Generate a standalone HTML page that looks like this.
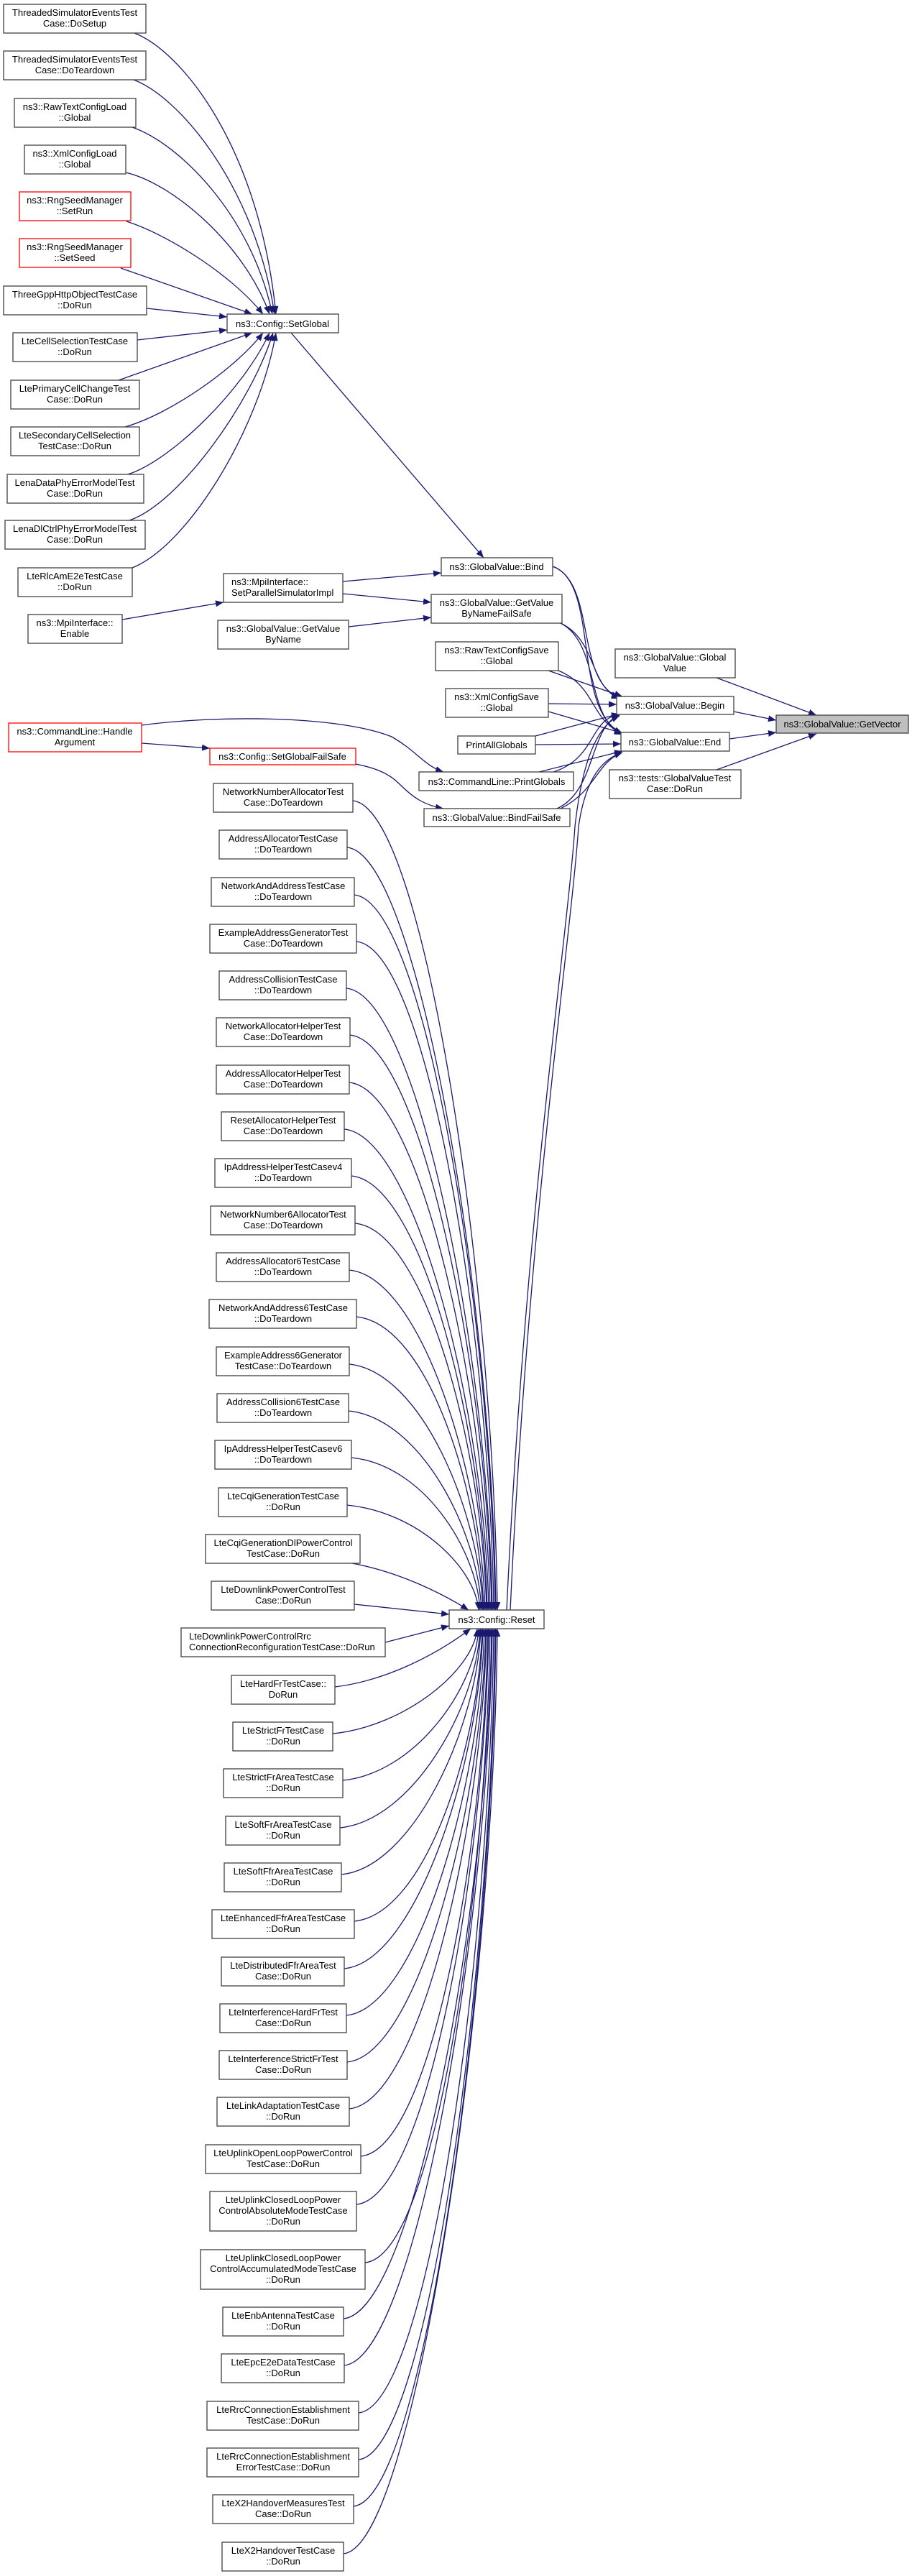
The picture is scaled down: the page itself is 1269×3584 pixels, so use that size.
<!DOCTYPE html>
<html><head><meta charset="utf-8"><style>
html,body{margin:0;padding:0;background:#fff;}
svg{display:block;}
text{font-family:"Liberation Sans",Arial,sans-serif;font-size:13px;fill:#000;}
.n{fill:#fff;stroke:#404040;stroke-width:1.3;}
.r{fill:#fff;stroke:#ff0000;stroke-width:1.3;}
.g{fill:#bfbfbf;stroke:#404040;stroke-width:1.3;}
.e{fill:none;stroke:#191970;stroke-width:1.3;marker-end:url(#a);}
</style></head><body>
<svg width="1269" height="3584" viewBox="0 0 1269 3584" xmlns="http://www.w3.org/2000/svg">
<defs><marker id="a" markerUnits="userSpaceOnUse" markerWidth="12" markerHeight="9" refX="11" refY="4.5" orient="auto"><path d="M0,0 L11,4.5 L0,9 z" fill="#191970"/></marker></defs>

<!-- edges to SetGlobal -->
<path class="e" d="M187,46 C250,70 360,200 384,437"/>
<path class="e" d="M186,111 C250,135 355,260 382,437"/>
<path class="e" d="M184,177 C250,200 350,300 379,437"/>
<path class="e" d="M175,240 C240,255 340,340 375,437"/>
<path class="e" d="M176,308 C230,325 320,380 366,437"/>
<path class="e" d="M168,373 L351,437"/>
<path class="e" d="M204,429 L316,441"/>
<path class="e" d="M191,473 L316,459"/>
<path class="e" d="M165,529 L351,463"/>
<path class="e" d="M174,594 C240,575 330,510 366,463"/>
<path class="e" d="M178,660 C240,640 340,540 375,463"/>
<path class="e" d="M180,724 C250,700 350,560 380,463"/>
<path class="e" d="M184,790 C260,760 360,600 384,463"/>
<path class="e" d="M405,463 L673,776"/>
<path class="e" d="M170,862 L311,838"/>
<path class="e" d="M477,809 L614,797"/>
<path class="e" d="M477,826 L600,838"/>
<path class="e" d="M485,872 L600,859"/>
<path class="e" d="M197,1034 L292,1041"/>
<path class="e" d="M197,1009 C300,995 470,995 545,1025 C580,1045 590,1065 617,1074"/>
<path class="e" d="M495,1063 C520,1068 540,1075 555,1090 C575,1110 590,1120 617,1125"/>

<!-- to Begin/End -->
<path class="e" d="M769,788 C830,810 800,950 862,970"/>
<path class="e" d="M769,788 C835,810 795,990 866,1020"/>
<path class="e" d="M780,867 C830,890 820,955 862,972"/>
<path class="e" d="M780,867 C835,895 815,1000 866,1022"/>
<path class="e" d="M763,933 L866,969"/>
<path class="e" d="M777,933 C830,955 820,1000 866,1021"/>
<path class="e" d="M763,979 L858,980"/>
<path class="e" d="M763,990 L866,1020"/>
<path class="e" d="M745,1024 L862,993"/>
<path class="e" d="M745,1036 L864,1035"/>
<path class="e" d="M770,1074 C830,1055 820,1000 862,994"/>
<path class="e" d="M750,1074 L866,1045"/>
<path class="e" d="M775,1125 C830,1100 820,1010 862,995"/>
<path class="e" d="M780,1125 C830,1100 830,1060 866,1047"/>
<path class="e" d="M705,2240 C730,1700 790,1300 800,1150 C810,1060 830,1010 862,996"/>
<path class="e" d="M710,2240 C735,1700 795,1300 805,1150 C815,1080 840,1055 866,1047"/>
<path class="e" d="M997,943 L1136,995"/>
<path class="e" d="M1021,990 L1080,1002"/>
<path class="e" d="M1015,1028 L1080,1019"/>
<path class="e" d="M997,1071 L1136,1021"/>

<!-- edges to Reset -->
<path class="e" d="M491,1114 C591,1124 687,1790 692,2240"/>
<path class="e" d="M483,1179 C583,1189 685,1816 690,2240"/>
<path class="e" d="M493,1245 C593,1255 684,1842 689,2240"/>
<path class="e" d="M496,1310 C596,1320 682,1868 687,2240"/>
<path class="e" d="M482,1375 C582,1385 680,1894 685,2240"/>
<path class="e" d="M487,1440 C587,1450 679,1920 684,2240"/>
<path class="e" d="M486,1506 C586,1516 677,1946 682,2240"/>
<path class="e" d="M479,1571 C579,1581 675,1972 680,2240"/>
<path class="e" d="M489,1636 C589,1646 673,1998 678,2240"/>
<path class="e" d="M494,1702 C594,1712 672,2025 677,2240"/>
<path class="e" d="M486,1767 C586,1777 670,2051 675,2240"/>
<path class="e" d="M496,1832 C596,1842 668,2077 673,2240"/>
<path class="e" d="M486,1898 C586,1908 667,2103 672,2240"/>
<path class="e" d="M485,1963 C585,1973 665,2129 670,2240"/>
<path class="e" d="M489,2028 C589,2038 663,2155 668,2240"/>
<path class="e" d="M483,2094 C583,2104 661,2182 666,2240"/>
<path class="e" d="M490,2175 C560,2188 620,2220 652,2240"/>
<path class="e" d="M493,2232 L625,2246"/>
<path class="e" d="M536,2285 L625,2262"/>
<path class="e" d="M466,2347 C540,2338 610,2300 655,2266"/>
<path class="e" d="M463,2412 C563,2402 659,2324 664,2266"/>
<path class="e" d="M477,2477 C577,2467 661,2350 666,2266"/>
<path class="e" d="M473,2543 C573,2533 663,2377 668,2266"/>
<path class="e" d="M475,2608 C575,2598 664,2403 669,2266"/>
<path class="e" d="M493,2673 C593,2663 666,2429 671,2266"/>
<path class="e" d="M479,2739 C579,2729 667,2455 672,2266"/>
<path class="e" d="M482,2804 C582,2794 669,2481 674,2266"/>
<path class="e" d="M483,2869 C583,2859 671,2507 676,2266"/>
<path class="e" d="M486,2934 C586,2924 672,2533 677,2266"/>
<path class="e" d="M502,3000 C602,2990 674,2560 679,2266"/>
<path class="e" d="M496,3067 C596,3057 675,2586 680,2266"/>
<path class="e" d="M508,3148 C608,3138 677,2619 682,2266"/>
<path class="e" d="M478,3226 C578,3216 679,2650 684,2266"/>
<path class="e" d="M479,3291 C579,3281 680,2676 685,2266"/>
<path class="e" d="M499,3357 C599,3347 682,2702 687,2266"/>
<path class="e" d="M499,3422 C599,3412 684,2728 689,2266"/>
<path class="e" d="M492,3487 C592,3477 685,2754 690,2266"/>
<path class="e" d="M478,3553 C578,3543 687,2781 692,2266"/>

<!-- top-left nodes -->
<g text-anchor="middle">
<rect class="n" x="5" y="6" width="198" height="40"/><text x="104" y="22">ThreadedSimulatorEventsTest</text><text x="104" y="37">Case::DoSetup</text>
<rect class="n" x="5" y="71" width="198" height="40"/><text x="104" y="87">ThreadedSimulatorEventsTest</text><text x="104" y="102">Case::DoTeardown</text>
<rect class="n" x="20" y="137" width="169" height="40"/><text x="104" y="153">ns3::RawTextConfigLoad</text><text x="104" y="168">::Global</text>
<rect class="n" x="34" y="202" width="141" height="40"/><text x="104" y="218">ns3::XmlConfigLoad</text><text x="104" y="233">::Global</text>
<rect class="r" x="27" y="267" width="155" height="40"/><text x="104" y="283">ns3::RngSeedManager</text><text x="104" y="298">::SetRun</text>
<rect class="r" x="27" y="332" width="155" height="40"/><text x="104" y="348">ns3::RngSeedManager</text><text x="104" y="363">::SetSeed</text>
<rect class="n" x="5" y="398" width="199" height="40"/><text x="104" y="414">ThreeGppHttpObjectTestCase</text><text x="104" y="429">::DoRun</text>
<rect class="n" x="18" y="463" width="173" height="40"/><text x="104" y="479">LteCellSelectionTestCase</text><text x="104" y="494">::DoRun</text>
<rect class="n" x="15" y="529" width="179" height="40"/><text x="104" y="545">LtePrimaryCellChangeTest</text><text x="104" y="560">Case::DoRun</text>
<rect class="n" x="15" y="594" width="179" height="40"/><text x="104" y="610">LteSecondaryCellSelection</text><text x="104" y="625">TestCase::DoRun</text>
<rect class="n" x="10" y="660" width="190" height="40"/><text x="104" y="676">LenaDataPhyErrorModelTest</text><text x="104" y="691">Case::DoRun</text>
<rect class="n" x="7" y="724" width="195" height="40"/><text x="104" y="740">LenaDlCtrlPhyErrorModelTest</text><text x="104" y="755">Case::DoRun</text>
<rect class="n" x="25" y="790" width="159" height="40"/><text x="104" y="806">LteRlcAmE2eTestCase</text><text x="104" y="821">::DoRun</text>
<rect class="n" x="39" y="855" width="131" height="40"/><text x="104" y="871">ns3::MpiInterface::</text><text x="104" y="886">Enable</text>
<rect class="n" x="316" y="437" width="155" height="26"/><text x="393" y="455">ns3::Config::SetGlobal</text>
<rect class="n" x="303" y="863" width="182" height="40"/><text x="394" y="879">ns3::GlobalValue::GetValue</text><text x="394" y="894">ByName</text>
<rect class="r" x="12" y="1006" width="185" height="40"/><text x="104" y="1022">ns3::CommandLine::Handle</text><text x="104" y="1037">Argument</text>
<rect class="r" x="292" y="1041" width="203" height="23"/><text x="393" y="1057">ns3::Config::SetGlobalFailSafe</text>

<rect class="n" x="614" y="776" width="155" height="25"/><text x="691" y="793">ns3::GlobalValue::Bind</text>
<rect class="n" x="600" y="827" width="182" height="40"/><text x="691" y="843">ns3::GlobalValue::GetValue</text><text x="691" y="858">ByNameFailSafe</text>
<rect class="n" x="606" y="893" width="171" height="40"/><text x="691" y="909">ns3::RawTextConfigSave</text><text x="691" y="924">::Global</text>
<rect class="n" x="620" y="958" width="143" height="40"/><text x="691" y="974">ns3::XmlConfigSave</text><text x="691" y="989">::Global</text>
<rect class="n" x="637" y="1024" width="108" height="25"/><text x="691" y="1041">PrintAllGlobals</text>
<rect class="n" x="583" y="1074" width="215" height="26"/><text x="691" y="1092">ns3::CommandLine::PrintGlobals</text>
<rect class="n" x="590" y="1125" width="203" height="25"/><text x="691" y="1142">ns3::GlobalValue::BindFailSafe</text>

<rect class="n" x="856" y="903" width="167" height="40"/><text x="939" y="919">ns3::GlobalValue::Global</text><text x="939" y="934">Value</text>
<rect class="n" x="858" y="969" width="163" height="25"/><text x="939" y="986">ns3::GlobalValue::Begin</text>
<rect class="n" x="864" y="1019" width="151" height="26"/><text x="939" y="1037">ns3::GlobalValue::End</text>
<rect class="n" x="848" y="1071" width="183" height="40"/><text x="939" y="1087">ns3::tests::GlobalValueTest</text><text x="939" y="1102">Case::DoRun</text>
<rect class="g" x="1080" y="995" width="184" height="25"/><text x="1172" y="1012">ns3::GlobalValue::GetVector</text>

<rect class="n" x="625" y="2240" width="132" height="26"/><text x="691" y="2258">ns3::Config::Reset</text>
</g>
<rect class="n" x="311" y="798" width="166" height="40"/><text x="322" y="814">ns3::MpiInterface::</text><text x="322" y="829">SetParallelSimulatorImpl</text>

<!-- Reset callers -->
<g text-anchor="middle">
<rect class="n" x="297" y="1090" width="194" height="40"/><text x="394" y="1106">NetworkNumberAllocatorTest</text><text x="394" y="1121">Case::DoTeardown</text>
<rect class="n" x="305" y="1155" width="178" height="40"/><text x="394" y="1171">AddressAllocatorTestCase</text><text x="394" y="1186">::DoTeardown</text>
<rect class="n" x="294" y="1221" width="199" height="40"/><text x="394" y="1237">NetworkAndAddressTestCase</text><text x="394" y="1252">::DoTeardown</text>
<rect class="n" x="292" y="1286" width="204" height="40"/><text x="394" y="1302">ExampleAddressGeneratorTest</text><text x="394" y="1317">Case::DoTeardown</text>
<rect class="n" x="305" y="1351" width="177" height="40"/><text x="394" y="1367">AddressCollisionTestCase</text><text x="394" y="1382">::DoTeardown</text>
<rect class="n" x="301" y="1416" width="186" height="40"/><text x="394" y="1432">NetworkAllocatorHelperTest</text><text x="394" y="1447">Case::DoTeardown</text>
<rect class="n" x="301" y="1482" width="185" height="40"/><text x="394" y="1498">AddressAllocatorHelperTest</text><text x="394" y="1513">Case::DoTeardown</text>
<rect class="n" x="308" y="1547" width="171" height="40"/><text x="394" y="1563">ResetAllocatorHelperTest</text><text x="394" y="1578">Case::DoTeardown</text>
<rect class="n" x="299" y="1612" width="190" height="40"/><text x="394" y="1628">IpAddressHelperTestCasev4</text><text x="394" y="1643">::DoTeardown</text>
<rect class="n" x="293" y="1678" width="201" height="40"/><text x="394" y="1694">NetworkNumber6AllocatorTest</text><text x="394" y="1709">Case::DoTeardown</text>
<rect class="n" x="301" y="1743" width="185" height="40"/><text x="394" y="1759">AddressAllocator6TestCase</text><text x="394" y="1774">::DoTeardown</text>
<rect class="n" x="291" y="1808" width="205" height="40"/><text x="394" y="1824">NetworkAndAddress6TestCase</text><text x="394" y="1839">::DoTeardown</text>
<rect class="n" x="301" y="1874" width="185" height="40"/><text x="394" y="1890">ExampleAddress6Generator</text><text x="394" y="1905">TestCase::DoTeardown</text>
<rect class="n" x="302" y="1939" width="183" height="40"/><text x="394" y="1955">AddressCollision6TestCase</text><text x="394" y="1970">::DoTeardown</text>
<rect class="n" x="299" y="2004" width="190" height="40"/><text x="394" y="2020">IpAddressHelperTestCasev6</text><text x="394" y="2035">::DoTeardown</text>
<rect class="n" x="304" y="2070" width="179" height="40"/><text x="394" y="2086">LteCqiGenerationTestCase</text><text x="394" y="2101">::DoRun</text>
<rect class="n" x="286" y="2135" width="215" height="40"/><text x="394" y="2151">LteCqiGenerationDlPowerControl</text><text x="394" y="2166">TestCase::DoRun</text>
<rect class="n" x="294" y="2200" width="199" height="40"/><text x="394" y="2216">LteDownlinkPowerControlTest</text><text x="394" y="2231">Case::DoRun</text>
<rect class="n" x="322" y="2331" width="144" height="40"/><text x="394" y="2347">LteHardFrTestCase::</text><text x="394" y="2362">DoRun</text>
<rect class="n" x="324" y="2396" width="139" height="40"/><text x="394" y="2412">LteStrictFrTestCase</text><text x="394" y="2427">::DoRun</text>
<rect class="n" x="311" y="2461" width="166" height="40"/><text x="394" y="2477">LteStrictFrAreaTestCase</text><text x="394" y="2492">::DoRun</text>
<rect class="n" x="314" y="2527" width="159" height="40"/><text x="394" y="2543">LteSoftFrAreaTestCase</text><text x="394" y="2558">::DoRun</text>
<rect class="n" x="312" y="2592" width="163" height="40"/><text x="394" y="2608">LteSoftFfrAreaTestCase</text><text x="394" y="2623">::DoRun</text>
<rect class="n" x="295" y="2657" width="198" height="40"/><text x="394" y="2673">LteEnhancedFfrAreaTestCase</text><text x="394" y="2688">::DoRun</text>
<rect class="n" x="308" y="2723" width="171" height="40"/><text x="394" y="2739">LteDistributedFfrAreaTest</text><text x="394" y="2754">Case::DoRun</text>
<rect class="n" x="306" y="2788" width="176" height="40"/><text x="394" y="2804">LteInterferenceHardFrTest</text><text x="394" y="2819">Case::DoRun</text>
<rect class="n" x="305" y="2853" width="178" height="40"/><text x="394" y="2869">LteInterferenceStrictFrTest</text><text x="394" y="2884">Case::DoRun</text>
<rect class="n" x="302" y="2918" width="184" height="40"/><text x="394" y="2934">LteLinkAdaptationTestCase</text><text x="394" y="2949">::DoRun</text>
<rect class="n" x="286" y="2984" width="216" height="40"/><text x="394" y="3000">LteUplinkOpenLoopPowerControl</text><text x="394" y="3015">TestCase::DoRun</text>
<rect class="n" x="292" y="3049" width="204" height="55"/><text x="394" y="3065">LteUplinkClosedLoopPower</text><text x="394" y="3080">ControlAbsoluteModeTestCase</text><text x="394" y="3095">::DoRun</text>
<rect class="n" x="279" y="3130" width="229" height="55"/><text x="394" y="3146">LteUplinkClosedLoopPower</text><text x="394" y="3161">ControlAccumulatedModeTestCase</text><text x="394" y="3176">::DoRun</text>
<rect class="n" x="310" y="3210" width="168" height="40"/><text x="394" y="3226">LteEnbAntennaTestCase</text><text x="394" y="3241">::DoRun</text>
<rect class="n" x="308" y="3275" width="171" height="40"/><text x="394" y="3291">LteEpcE2eDataTestCase</text><text x="394" y="3306">::DoRun</text>
<rect class="n" x="288" y="3341" width="211" height="40"/><text x="394" y="3357">LteRrcConnectionEstablishment</text><text x="394" y="3372">TestCase::DoRun</text>
<rect class="n" x="288" y="3406" width="211" height="40"/><text x="394" y="3422">LteRrcConnectionEstablishment</text><text x="394" y="3437">ErrorTestCase::DoRun</text>
<rect class="n" x="296" y="3471" width="196" height="40"/><text x="394" y="3487">LteX2HandoverMeasuresTest</text><text x="394" y="3502">Case::DoRun</text>
<rect class="n" x="309" y="3537" width="169" height="40"/><text x="394" y="3553">LteX2HandoverTestCase</text><text x="394" y="3568">::DoRun</text>
</g>
<rect class="n" x="252" y="2265" width="284" height="40"/><text x="263" y="2281">LteDownlinkPowerControlRrc</text><text x="263" y="2296">ConnectionReconfigurationTestCase::DoRun</text>
</svg>
</body></html>
